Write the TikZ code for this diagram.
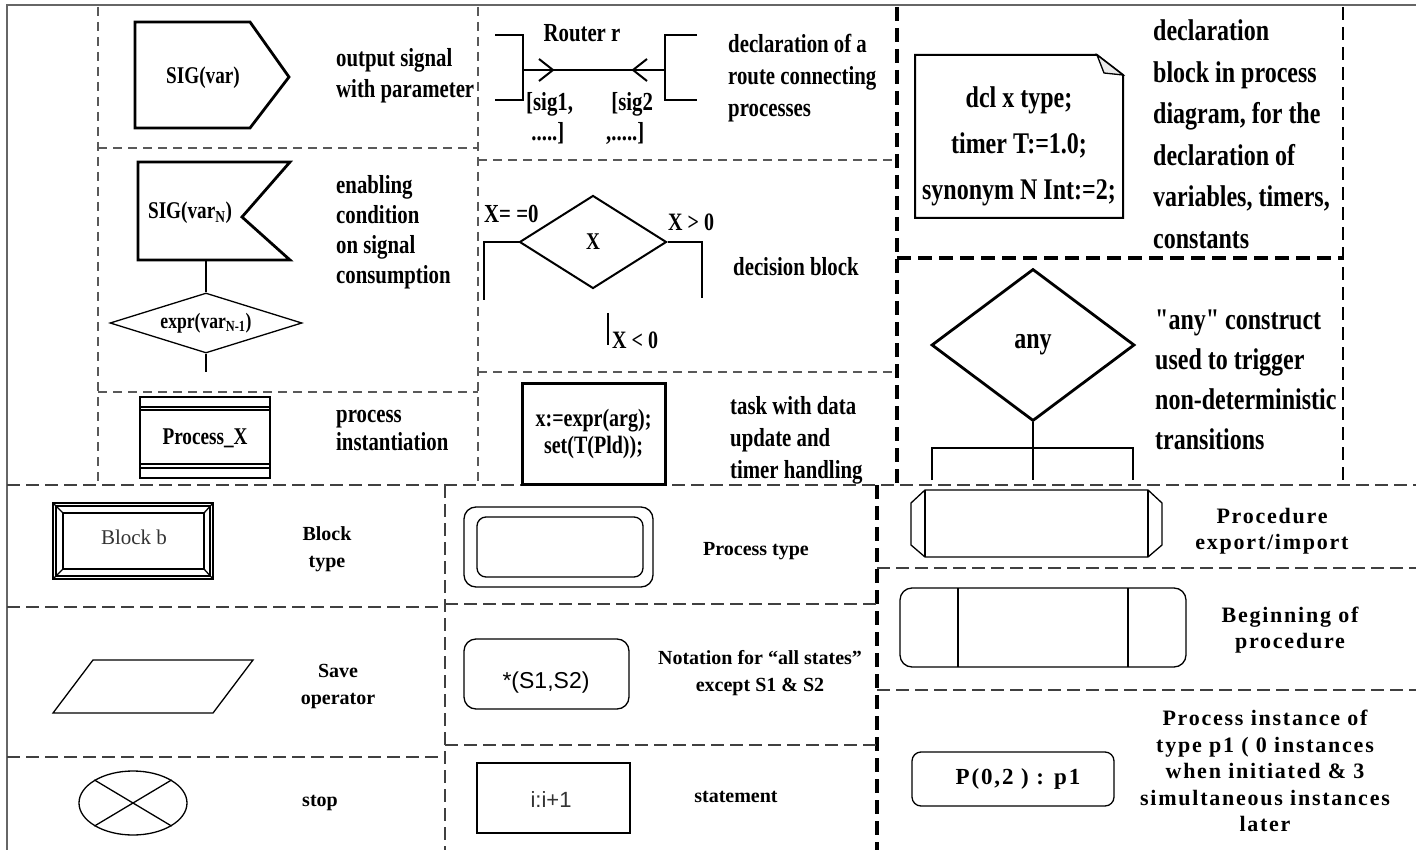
\documentclass[tikz,border=0pt]{standalone}
\usepackage{fontspec}
\setmainfont{Liberation Serif}
\newfontfamily\condfam[FakeStretch=0.8]{Liberation Serif}
\newfontfamily\sansfam{Liberation Sans}
\newfontfamily\spacedfam[LetterSpace=8]{Liberation Serif}
\usetikzlibrary{shapes.geometric}
\newcommand\ctf[2]{\condfam\bfseries\fontsize{#1}{#2}\selectfont}
\newcommand\stf[2]{\spacedfam\bfseries\fontsize{#1}{#2}\selectfont}
\newcommand\btf[2]{\bfseries\fontsize{#1}{#2}\selectfont}
\begin{document}
\begin{tikzpicture}[x=1pt,y=-1pt,
 frameline/.style={draw=black!60, line width=1.6},
 thindash/.style={draw=black!65, line width=1.3, dash pattern=on 9 off 6},
 botdash/.style={draw=black!75, line width=1.5, dash pattern=on 13 off 6},
 meddash/.style={draw=black, line width=2, dash pattern=on 13 off 7},
 thickdash/.style={draw=black, line width=3.2, dash pattern=on 14 off 7},
 shp/.style={draw=black, line width=1.3},
 shpm/.style={draw=black, line width=2},
 shpt/.style={draw=black, line width=2.8},
 toplbl/.style={font=\ctf{26}{31}, align=left, anchor=west, inner sep=0},
 biglbl/.style={font=\ctf{30}{41.5}, align=left, anchor=west, inner sep=0},
 boxtxt/.style={font=\ctf{24}{28}, inner sep=0},
 botlbl/.style={font=\btf{20}{27}, align=center, inner sep=0},
 clbl/.style={font=\stf{22}{26.5}, align=center, inner sep=0},
]
\fill[white] (0,0) rectangle (1416,850);
\useasboundingbox (0,0) rectangle (1416,850);

% ---------- grid ----------
\draw[frameline] (1416,5) -- (7,5) -- (7,850);
\draw[thindash] (98,7) -- (98,485);
\draw[thindash] (478,7) -- (478,485);
\draw[thindash] (98,148) -- (478,148);
\draw[thindash] (98,392) -- (478,392);
\draw[thindash] (478,160) -- (897,160);
\draw[thindash] (478,372) -- (897,372);
\draw[thickdash] (897,7) -- (897,485);
\draw[thickdash] (897,258) -- (1343,258);
\draw[meddash] (1343,7) -- (1343,482);
\draw[botdash] (7,485) -- (1416,485);
\draw[botdash] (445,485) -- (445,850);
\draw[thickdash] (877,485) -- (877,850);
\draw[botdash] (7,607) -- (445,607);
\draw[botdash] (7,757) -- (445,757);
\draw[botdash] (445,604) -- (877,604);
\draw[botdash] (445,745) -- (877,745);
\draw[botdash] (877,568) -- (1416,568);
\draw[botdash] (877,690) -- (1416,690);

% ---------- output signal ----------
\draw[shpt] (135,22) -- (250,22) -- (289,77) -- (250,128) -- (135,128) -- cycle;
\node[boxtxt] (sigvar) at (203,78) {SIG(var)};
\node[toplbl] (l1) at (336,76) {output signal\\with parameter};

% ---------- input signal with enabling condition ----------
\draw[shpt] (290,162) -- (138,162) -- (138,260) -- (290,260) -- (242,217) -- cycle;
\node[boxtxt] (signv) at (190,213) {SIG(var\textsubscript{N})};
\node[diamond, shp, aspect=3.2, minimum width=192, minimum height=60, inner sep=0, font=\ctf{22}{26}] (expr) at (206,323) {expr(var\textsubscript{N-1})};
\coordinate (inbot) at (206,260);
\coordinate (exend) at (206,372);
\draw[shp] (inbot) -- (expr.north);
\draw[shp] (expr.south) -- (exend);
\node[toplbl, font=\ctf{26}{30}] (l2) at (336,232) {enabling\\condition\\on signal\\consumption};

% ---------- process instantiation ----------
\draw[shpm] (140,397) rectangle (270,478);
\draw[shp] (140,407) -- (270,407);
\draw[shp] (140,410) -- (270,410);
\draw[shp] (140,464) -- (270,464);
\draw[shp] (140,468) -- (270,468);
\node[boxtxt] (procx) at (205,438) {Process\_X};
\node[toplbl, font=\ctf{26}{28}] (l3) at (336,430) {process\\instantiation};

% ---------- router ----------
\coordinate (rl1) at (495,35); \coordinate (rl2) at (523,35);
\coordinate (rl3) at (523,100); \coordinate (rl4) at (495,100);
\coordinate (rr1) at (697,35); \coordinate (rr2) at (665,35);
\coordinate (rr3) at (665,100); \coordinate (rr4) at (697,100);
\coordinate (rm1) at (523,70); \coordinate (rm2) at (665,70);
\draw[shpm] (rl1) -- (rl2) -- (rl3) -- (rl4);
\draw[shpm] (rr1) -- (rr2) -- (rr3) -- (rr4);
\draw[shpm] (rm1) -- (rm2);
\draw[shpm] (539,59) -- (553,70) -- (539,81);
\draw[shpm] (647,59) -- (633,70) -- (647,81);
\node[inner sep=0, font=\ctf{26}{30}] (rt) at (582,33) {Router r};
\node[toplbl, anchor=north west, align=left, font=\ctf{26}{30}] (s1) at (526,92) {[sig1,\\\ .....]};
\node[toplbl, anchor=north west, align=left, font=\ctf{26}{30}] (s2) at (606,92) {\ [sig2\\,.....]};
\node[toplbl, font=\ctf{26}{32}] (l4) at (728,78) {declaration of a\\route connecting\\processes};

% ---------- decision ----------
\node[diamond, shpm, aspect=1.58, minimum width=147, minimum height=93, inner sep=0, font=\ctf{24}{28}] (dec) at (593,242) {X};
\coordinate (dl1) at (484,242); \coordinate (dl2) at (484,300);
\coordinate (dr1) at (702,242); \coordinate (dr2) at (702,298);
\coordinate (db1) at (608,313); \coordinate (db2) at (608,345);
\draw[shpm] (dec.west) -- (dl1) -- (dl2);
\draw[shpm] (dec.east) -- (dr1) -- (dr2);
\draw[shpm] (db1) -- (db2);
\node[toplbl, font=\ctf{26}{28}] (x0) at (484,214) {X= =0};
\node[toplbl, font=\ctf{25}{28}] (xg) at (668,222) {X > 0};
\node[toplbl, font=\ctf{25}{28}] (xl) at (612,340) {X < 0};
\node[toplbl] (l5) at (733,267) {decision block};

% ---------- task ----------
\node[draw, line width=3, minimum width=143, minimum height=101, inner sep=0, align=center, font=\ctf{25}{27}] (task) at (593.5,433.5) {x:=expr(arg);\\set(T(Pld));};
\node[toplbl, font=\ctf{26}{32}] (l6) at (730,440) {task with data\\update and\\timer handling};

% ---------- declaration ----------
\draw[shpm] (915,55) -- (1097,55) -- (1123,75) -- (1123,218) -- (915,218) -- cycle;
\draw[shp, fill=black!8] (1097,55) -- (1104,73) -- (1123,75) -- cycle;
\node[boxtxt, align=center, font=\ctf{30}{46}] (dcl) at (1019,146) {dcl x type;\\timer T:=1.0;\\synonym N Int:=2;};
\node[biglbl] (l7) at (1153,134) {declaration\\block in process\\diagram, for the\\declaration of\\variables, timers,\\constants};

% ---------- any ----------
\node[diamond, shpt, aspect=1.34, minimum width=203, minimum height=152, inner sep=0, font=\ctf{30}{34}] (anyd) at (1033,345) {any};
\coordinate (a1) at (1033,480);
\coordinate (a2) at (932,448); \coordinate (a3) at (1133,448);
\coordinate (a4) at (932,480); \coordinate (a5) at (1133,480);
\draw[shpm] (anyd.south) -- (a1);
\draw[shpt] (a4) -- (a2) -- (a3) -- (a5);
\node[biglbl, font=\ctf{30}{40}] (l8) at (1155,380) {"any" construct\\used to trigger\\non-deterministic\\transitions};

% ---------- block type ----------
\draw[shp] (53,503) rectangle (213,579);
\draw[shp] (56,506) rectangle (210,576);
\draw[shpm] (63,513) rectangle (204,569);
\draw[shp] (53,503) -- (63,513);
\draw[shp] (213,503) -- (204,513);
\draw[shp] (53,579) -- (63,569);
\draw[shp] (213,579) -- (204,569);
\node[inner sep=0, text=black!80, font=\fontsize{21}{24}\selectfont] (blk) at (134,537) {Block b};
\node[botlbl] (l9) at (327,549) {Block\\type};

% ---------- save ----------
\draw[shp] (93,660) -- (253,660) -- (213,713) -- (53,713) -- cycle;
\node[botlbl] (l10) at (338,687) {Save\\operator};

% ---------- stop ----------
\node[ellipse, shp, minimum width=108, minimum height=64, inner sep=0] (stop) at (133,803) {};
\draw[shp] (stop.north west) -- (stop.south east);
\draw[shp] (stop.north east) -- (stop.south west);
\node[botlbl] (l11) at (320,803) {stop};

% ---------- process type ----------
\draw[shp, rounded corners=12] (464,507) rectangle (653,587);
\draw[shp, rounded corners=9] (477,517) rectangle (643,577);
\node[botlbl] (l12) at (756,551) {Process type};

% ---------- all states ----------
\draw[shp, rounded corners=12] (464,639) rectangle (629,709);
\node[inner sep=0, font=\sansfam\fontsize{23}{26}\selectfont] (alls) at (546,683) {*(S1,S2)};
\node[botlbl] (l13) at (760,673) {Notation for “all states”\\except S1 \& S2};

% ---------- statement ----------
\draw[shp] (477,763) rectangle (630,833);
\node[inner sep=0, text=black!80, font=\sansfam\fontsize{22}{26}\selectfont] (stm) at (551,800) {i:i+1};
\node[botlbl] (l14) at (736,797) {statement};

% ---------- procedure export/import ----------
\draw[shp] (925,490) -- (1148,490) -- (1162,503) -- (1162,545) -- (1148,557) -- (925,557) -- (911,545) -- (911,503) -- cycle;
\draw[shpm] (925,490) -- (925,557);
\draw[shpm] (1148,490) -- (1148,557);
\node[clbl] (l15) at (1272,531) {Procedure\\export/import};

% ---------- beginning of procedure ----------
\draw[shp, rounded corners=12] (900,588) rectangle (1186,667);
\draw[shp] (958,588) -- (958,667);
\draw[shp] (1128,588) -- (1128,667);
\node[clbl] (l16) at (1290,630) {Beginning of\\procedure};

% ---------- process instance ----------
\draw[shp, rounded corners=9] (912,752) rectangle (1114,806);
\node[inner sep=0, font=\stf{23}{26}] (pinst) at (1018,779) {P(0,2 ) : p1};
\node[clbl] (l17) at (1265,771) {Process instance of\\type p1 ( 0 instances\\when initiated \& 3\\simultaneous instances\\later};
\end{tikzpicture}
\end{document}
